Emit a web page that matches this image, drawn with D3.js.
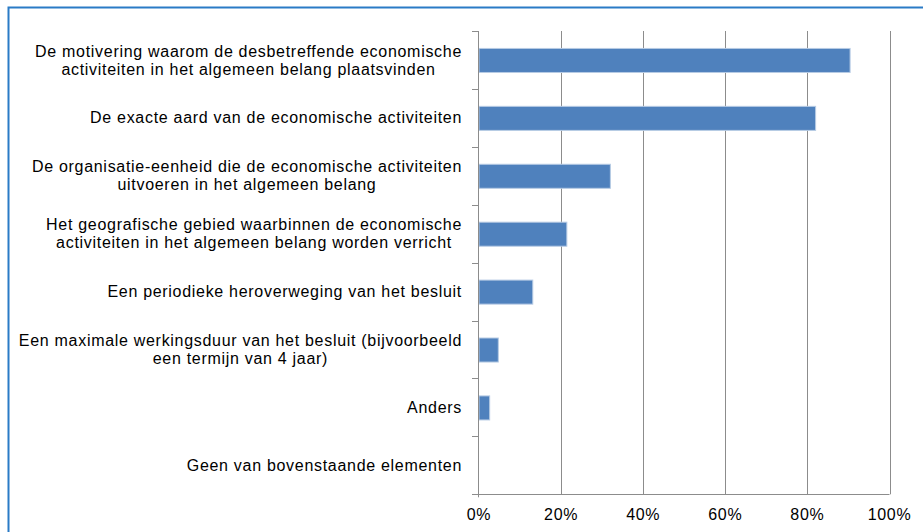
<!DOCTYPE html>
<html>
<head>
<meta charset="utf-8">
<script src="https://cdn.jsdelivr.net/npm/d3@7"></script>
<style>
  body { margin: 0; background: #fff; }
  text { font-family: "Liberation Sans", Arial, sans-serif; letter-spacing: 0.7px; }
</style>
</head>
<body>
<div id="chart"></div>
<script>
// categories (top to bottom), each an array of label lines
var categories = [
  ["De motivering waarom de desbetreffende economische", "activiteiten in het algemeen belang plaatsvinden"],
  ["De exacte aard van de economische activiteiten"],
  ["De organisatie-eenheid die de economische activiteiten", "uitvoeren in het algemeen belang"],
  ["Het geografische gebied waarbinnen de economische", "activiteiten in het algemeen belang worden verricht"],
  ["Een periodieke heroverweging van het besluit"],
  ["Een maximale werkingsduur van het besluit (bijvoorbeeld", "een termijn van 4 jaar)"],
  ["Anders"],
  ["Geen van bovenstaande elementen"]
];
var values = [0.904, 0.820, 0.320, 0.214, 0.131, 0.047, 0.026, 0];
var xTicks = [0, 0.2, 0.4, 0.6, 0.8, 1.0];

var W = 923, H = 532;
var plot = {left: 479, right: 889.5, top: 31, bottom: 494.3};

var svg = d3.select("#chart")
  .append("svg")
  .attr("width", W)
  .attr("height", H);

// frame
svg.append("rect")
  .attr("x", 8.5).attr("y", 7.5)
  .attr("width", 940).attr("height", 560)
  .attr("fill", "none")
  .attr("stroke", "#2a7bc6")
  .attr("stroke-width", 2);

var x = d3.scaleLinear().domain([0, 1]).range([plot.left, plot.right]);
var y = d3.scaleBand()
  .domain(d3.range(categories.length))
  .range([plot.top, plot.bottom])
  .paddingInner(0.585)
  .paddingOuter(0.2925);
var step = y.step();

// vertical gridlines
svg.append("g")
  .selectAll("line")
  .data(xTicks.slice(1))
  .join("line")
  .attr("x1", function(d) { return Math.round(x(d)) + 0.5; })
  .attr("x2", function(d) { return Math.round(x(d)) + 0.5; })
  .attr("y1", plot.top)
  .attr("y2", plot.bottom)
  .attr("stroke", "#8c8c8c")
  .attr("stroke-width", 1);

// bars
svg.append("g")
  .selectAll("rect")
  .data(values)
  .join("rect")
  .attr("x", x(0))
  .attr("y", function(d, i) { return y(i) + 0.5; })
  .attr("width", function(d) { return x(d) - x(0); })
  .attr("height", y.bandwidth())
  .attr("fill", "#4f81bd")
  .attr("stroke", function(d) { return d > 0 ? "#b7cbe4" : "none"; })
  .attr("stroke-width", 1);

// y axis line + category ticks
var ax = svg.append("g").attr("stroke", "#8c8c8c").attr("stroke-width", 1);
ax.append("line")
  .attr("x1", Math.round(x(0)) - 0.5).attr("x2", Math.round(x(0)) - 0.5)
  .attr("y1", plot.top).attr("y2", plot.bottom + 3);
ax.selectAll("line.tk")
  .data(d3.range(categories.length + 1))
  .join("line")
  .attr("class", "tk")
  .attr("x1", plot.left - 7).attr("x2", plot.left)
  .attr("y1", function(i) { return Math.round(plot.top + i * step) + 0.5; })
  .attr("y2", function(i) { return Math.round(plot.top + i * step) + 0.5; });
// x axis line
ax.append("line")
  .attr("x1", plot.left - 7).attr("x2", plot.right)
  .attr("y1", Math.round(plot.bottom) + 0.5).attr("y2", Math.round(plot.bottom) + 0.5);

// x tick labels
svg.append("g")
  .selectAll("text")
  .data(xTicks)
  .join("text")
  .attr("x", function(d) { return x(d); })
  .attr("y", 520)
  .attr("text-anchor", "middle")
  .attr("font-size", 16)
  .attr("fill", "#000")
  .text(d3.format(".0%"));

// category labels: block right aligned, lines centered inside block
var labelRight = 462, lineH = 18;
categories.forEach(function(lines, i) {
  var g = svg.append("g");
  var cy = y(i) + y.bandwidth() / 2;
  var texts = lines.map(function(s, j) {
    return g.append("text")
      .attr("y", cy + (j - (lines.length - 1) / 2) * lineH)
      .attr("dy", "0.35em")
      .attr("font-size", 16)
      .attr("fill", "#000")
      .attr("text-anchor", "middle")
      .text(s);
  });
  var bw = d3.max(texts, function(t) { return t.node().getComputedTextLength(); });
  texts.forEach(function(t) { t.attr("x", labelRight - bw / 2); });
});
</script>
</body>
</html>
